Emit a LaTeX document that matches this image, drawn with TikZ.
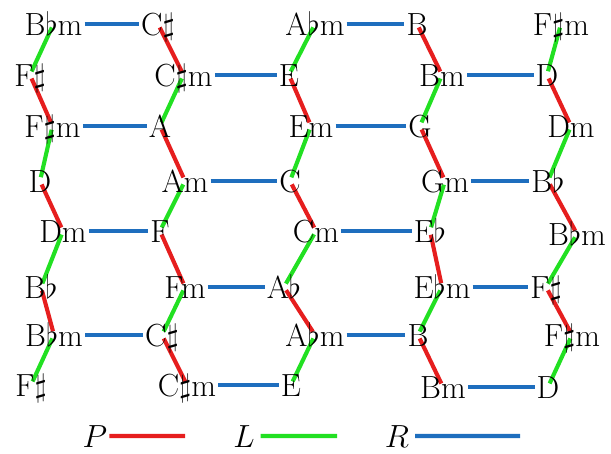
\documentclass[tikz,border=0pt]{standalone}
\usetikzlibrary{positioning,backgrounds}
\definecolor{PRed}{HTML}{E61E1E}
\definecolor{LGreen}{HTML}{22E022}
\definecolor{RBlue}{HTML}{1E6EBE}

\begin{document}
\begin{tikzpicture}[x=0.7775pt,y=-0.7775pt,
  every node/.style={font=\Huge,inner xsep=1.5pt,inner ysep=0pt,text height=22.4pt,text depth=3.7pt,anchor=base},
  Pedge/.style={PRed,line width=3.2pt},
  Ledge/.style={LGreen,line width=3.2pt},
  Redge/.style={RBlue,line width=3.2pt},
  zig/.style={shorten >=3pt,shorten <=3pt}]
  \useasboundingbox (0,0) rectangle (611,454);
  % first column
  \node (a0) at (53.5,36) {B$\flat$m};
  \node (a1) at (30,87) {F$\sharp$};
  \node (a2) at (52.5,138) {F$\sharp$m};
  \node (a3) at (40,193) {D};
  \node (a4) at (63,243) {Dm};
  \node (a5) at (41,299) {B$\flat$};
  \node (a6) at (54,347) {B$\flat$m};
  \node (a7) at (31,397) {F$\sharp$};
  % second column
  \node (b0) at (158,36) {C$\sharp$};
  \node (b1) at (183.5,87) {C$\sharp$m};
  \node (b2) at (160,138) {A};
  \node (b3) at (185,193) {Am};
  \node (b4) at (160,243) {F};
  \node (b5) at (185,299) {Fm};
  \node (b6) at (162,347) {C$\sharp$};
  \node (b7) at (187,397) {C$\sharp$m};
  % third column
  \node (c0) at (315,36) {A$\flat$m};
  \node (c1) at (289,87) {E};
  \node (c2) at (311,138) {Em};
  \node (c3) at (290,193) {C};
  \node (c4) at (316,243) {Cm};
  \node (c5) at (284,299) {A$\flat$};
  \node (c6) at (315,347) {A$\flat$m};
  \node (c7) at (291,397) {E};
  % fourth column
  \node (d0) at (417,36) {B};
  \node (d1) at (442,87) {Bm};
  \node (d2) at (420,138) {G};
  \node (d3) at (445,193) {Gm};
  \node (d4) at (430,243) {E$\flat$};
  \node (d5) at (442,299) {E$\flat$m};
  \node (d6) at (418,347) {B};
  \node (d7) at (443,399) {Bm};
  % fifth column
  \node (e0) at (561,36) {F$\sharp$m};
  \node (e1) at (547,87) {D};
  \node (e2) at (571,138) {Dm};
  \node (e3) at (548,193) {B$\flat$};
  \node (e4) at (577,246) {B$\flat$m};
  \node (e5) at (546,299) {F$\sharp$};
  \node (e6) at (572,347) {F$\sharp$m};
  \node (e7) at (548,399) {D};
  % legend
  \node (P) at (95,448) {$P$};
  \node (L) at (244,448) {$L$};
  \node (R) at (397,448) {$R$};
  \coordinate (Pend) at (185,436);
  \coordinate (Lend) at (337,436);
  \coordinate (Rend) at (520,436);

  \begin{scope}[on background layer]
    % R moves
    \draw[Redge] (a0) -- (b0);
    \draw[Redge] (c0) -- (d0);
    \draw[Redge] (b1) -- (c1);
    \draw[Redge] (d1) -- (e1);
    \draw[Redge] (a2) -- (b2);
    \draw[Redge] (c2) -- (d2);
    \draw[Redge] (b3) -- (c3);
    \draw[Redge] (d3) -- (e3);
    \draw[Redge] (a4) -- (b4);
    \draw[Redge] (c4) -- (d4);
    \draw[Redge] (b5) -- (c5);
    \draw[Redge] (d5) -- (e5);
    \draw[Redge] (a6) -- (b6);
    \draw[Redge] (c6) -- (d6);
    \draw[Redge] (b7) -- (c7);
    \draw[Redge] (d7) -- (e7);
    % L moves
    \draw[Ledge,zig] (a0.center) edge (a1.center) (a2.center) edge (a3.center) (a4.center) edge (a5.center) (a6.center) edge (a7.center);
    \draw[Ledge,zig] (b1.center) edge (b2.center) (b3.center) edge (b4.center) (b5.center) edge (b6.center);
    \draw[Ledge,zig] (c0.center) edge (c1.center) (c2.center) edge (c3.center) (c4.center) edge (c5.center) (c6.center) edge (c7.center);
    \draw[Ledge,zig] (d1.center) edge (d2.center) (d3.center) edge (d4.center) (d5.center) edge (d6.center);
    \draw[Ledge,zig] (e0.center) edge (e1.center) (e2.center) edge (e3.center) (e4.center) edge (e5.center) (e6.center) edge (e7.center);
    % P moves
    \draw[Pedge,zig] (a1.center) edge (a2.center) (a3.center) edge (a4.center) (a5.center) edge (a6.center);
    \draw[Pedge,zig] (b0.center) edge (b1.center) (b2.center) edge (b3.center) (b4.center) edge (b5.center) (b6.center) edge (b7.center);
    \draw[Pedge,zig] (c1.center) edge (c2.center) (c3.center) edge (c4.center) (c5.center) edge (c6.center);
    \draw[Pedge,zig] (d0.center) edge (d1.center) (d2.center) edge (d3.center) (d4.center) edge (d5.center) (d6.center) edge (d7.center);
    \draw[Pedge,zig] (e1.center) edge (e2.center) (e3.center) edge (e4.center) (e5.center) edge (e6.center);
  \end{scope}

  \draw[Pedge] (P) -- (Pend);
  \draw[Ledge,shorten <=3pt] (L) -- (Lend);
  \draw[Redge,shorten <=3pt] (R) -- (Rend);
\end{tikzpicture}
\end{document}
